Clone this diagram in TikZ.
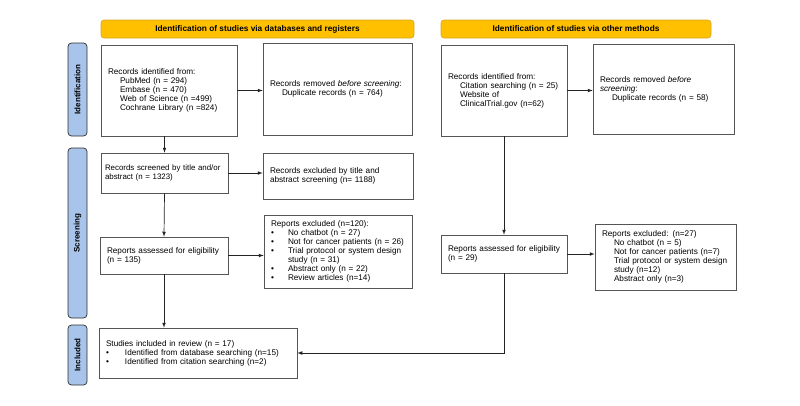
\documentclass[tikz,border=0pt]{standalone}
\usepackage{fontspec}
\setmainfont{Liberation Sans}
\usepackage{xcolor}
\usetikzlibrary{positioning}
\definecolor{headerColor}{RGB}{255, 192, 0}
\definecolor{headerLineColor}{RGB}{214, 165, 40}
\definecolor{phaseColor}{RGB}{169, 196, 235}
\definecolor{phaseLineColor}{RGB}{45, 45, 45}
\definecolor{boxLineColor}{RGB}{85, 85, 85}
\definecolor{arrowColor}{RGB}{35, 35, 35}

\newcommand{\ind}{\hspace*{12pt}}
\newcommand{\bul}{\makebox[17pt][l]{\textbullet}}

\begin{document}
\begin{tikzpicture}[
		x=1pt, y=-1pt,
		% Define styles for nodes
		header/.style={
				draw=headerLineColor,
				fill=headerColor,
				rectangle,
				rounded corners=3pt,
				line width=0.6pt,
				font=\fontsize{8.3}{9}\selectfont\bfseries
			},
		phase/.style={
				draw=phaseLineColor,
				fill=phaseColor,
				rectangle,
				rounded corners=3.5pt,
				line width=0.7pt,
				minimum width=19pt,
				inner sep=0pt
			},
		phaselabel/.style={
				rotate=90,
				font=\fontsize{8}{9}\selectfont\bfseries
			},
		recbox/.style={
				draw=boxLineColor,
				rectangle,
				line width=0.7pt,
				fill=white,
				align=left,
				inner xsep=7pt,
				inner ysep=0pt,
				font=\fontsize{8.2}{9}\selectfont
			},
		arrow/.style={
				->,
				>=latex,
				line width=0.7pt,
				draw=arrowColor
			}
	]

	% Page
	\useasboundingbox (0,0) rectangle (800,405);

	% Column headers
	\node[header, minimum width=313pt, minimum height=18pt] (dbhead) at (257.5,29) {Identification of studies via databases and registers};
	\node[header, minimum width=270pt, minimum height=18pt] (otherhead) at (576,29) {Identification of studies via other methods};

	% Phase tabs
	\node[phase, minimum height=93pt] (identtab) at (77.5,89.5) {};
	\node[phaselabel] at (identtab) {Identification};
	\node[phase, minimum height=170pt] (screentab) at (77.5,233) {};
	\node[phaselabel] at (screentab) {Screening};
	\node[phase, minimum height=60pt] (incltab) at (77.5,355) {};
	\node[phaselabel] at (incltab) {Included};

	% IDENTIFICATION: databases and registers
	\node[recbox, minimum width=136pt, minimum height=91pt, text width=122pt] (dbident) at (169,90.5) {
		Records identified from:\\
		\ind PubMed (n = 294)\\
		\ind Embase (n = 470)\\
		\ind Web of Science (n =499)\\
		\ind Cochrane Library (n =824)\\[10pt]
	};
	\node[recbox, minimum width=149pt, minimum height=92pt, text width=135pt] (dbremoved) at (337.5,89) {
		Records removed \textit{before screening}:\\
		\ind Duplicate records (n = 764)\\[7pt]
	};

	% IDENTIFICATION: other methods
	\node[recbox, minimum width=126pt, minimum height=91pt, text width=112pt] (otherident) at (504,90.5) {
		Records identified from:\\
		\ind Citation searching (n = 25)\\
		\ind Website of\\
		\ind ClinicalTrial.gov (n=62)\\[10pt]
	};
	\node[recbox, minimum width=141pt, minimum height=90pt, text width=127pt] (otherremoved) at (663.5,89) {
		Records removed \textit{before}\\
		\textit{screening}:\\
		\ind Duplicate records (n = 58)\\[12pt]
	};

	% SCREENING: databases and registers
	\node[recbox, minimum width=127pt, minimum height=40pt, inner xsep=4pt, text width=119pt, font=\fontsize{7.9}{9}\selectfont] (dbscreen) at (164.5,173) {
		\mbox{Records screened by title and/or}\\
		abstract (n = 1323)
	};
	\node[recbox, minimum width=150pt, minimum height=46pt, text width=136pt] (dbexcluded) at (338,176) {
		Records excluded by title and\\
		abstract screening (n= 1188)
	};
	\node[recbox, minimum width=128pt, minimum height=37pt, text width=114pt] (dbassess) at (164,255.5) {
		\mbox{Reports assessed for eligibility}\\
		(n = 135)
	};
	\node[recbox, minimum width=148pt, minimum height=73pt, text width=134pt] (dbreports) at (338,251.5) {
		Reports excluded (n=120):\\
		\bul\mbox{No chatbot (n = 27)}\\
		\bul\mbox{Not for cancer patients (n = 26)}\\
		\bul\mbox{Trial protocol or system design}\\
		\hspace*{17pt}study (n = 31)\\
		\bul\mbox{Abstract only (n = 22)}\\
		\bul\mbox{Review articles (n=14)}
	};

	% SCREENING: other methods
	\node[recbox, minimum width=126pt, minimum height=38pt, text width=112pt] (otherassess) at (504,254) {
		\mbox{Reports assessed for eligibility}\\
		(n = 29)
	};
	\node[recbox, minimum width=141pt, minimum height=66pt, text width=127pt] (otherreports) at (665.5,257) {
		Reports excluded: (n=27)\\
		\ind No chatbot (n = 5)\\
		\ind\mbox{Not for cancer patients (n=7)}\\
		\ind\mbox{Trial protocol or system design}\\
		\ind study (n=12)\\
		\ind Abstract only (n=3)\\[8pt]
	};

	% INCLUDED
	\node[recbox, minimum width=198pt, minimum height=50pt, text width=184pt] (included) at (198,353) {
		Studies included in review (n = 17)\\
		\makebox[19pt][l]{\textbullet}\mbox{Identified from database searching (n=15)}\\
		\makebox[19pt][l]{\textbullet}\mbox{Identified from citation searching (n=2)}
	};

	% ARROWS
	% Databases column
	\draw[arrow] (dbident.east) -- (dbident.east -| dbremoved.west);
	\draw[arrow] (dbscreen.north |- dbident.south) -- (dbscreen.north);
	\draw[arrow] (dbscreen.east) -- (dbscreen.east -| dbexcluded.west);
	\draw[arrow] (dbscreen.south) -- (dbassess.north);
	\draw[arrow] (dbassess.east) -- (dbassess.east -| dbreports.west);
	\draw[arrow] (dbassess.south) -- (dbassess.south |- included.north);

	% Other methods column
	\draw[arrow] (otherident.east) -- (otherident.east -| otherremoved.west);
	\draw[arrow] (otherident.south) -- (otherassess.north);
	\draw[arrow] (otherassess.east) -- (otherassess.east -| otherreports.west);
	\draw[arrow] (otherassess.south) |- (included.east);

\end{tikzpicture}
\end{document}
